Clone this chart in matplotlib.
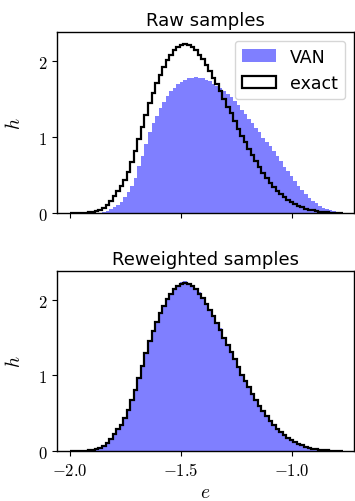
## Import libraries

import numpy as np
import matplotlib
matplotlib.use("Agg")
import matplotlib.pyplot as plt

plt.rcParams["font.family"] = "DejaVu Sans"
plt.rcParams["mathtext.fontset"] = "cm"

## Data (bin heights, 77 bins from -2.0 to -0.768)

edges = np.linspace(-2.0, -0.768, 78)

exact = [0.000, 0.000, 0.001, 0.002, 0.004, 0.008, 0.015, 0.026, 0.045, 0.07,
         0.11, 0.16, 0.22, 0.29, 0.35, 0.43, 0.54, 0.67, 0.81, 0.97,
         1.13, 1.29, 1.45, 1.58, 1.71, 1.82, 1.92, 2.01, 2.08, 2.14,
         2.18, 2.21, 2.22, 2.21, 2.18, 2.14, 2.08, 2.02, 1.95, 1.87,
         1.78, 1.69, 1.60, 1.50, 1.40, 1.31, 1.21, 1.11, 1.01, 0.93,
         0.84, 0.76, 0.68, 0.60, 0.53, 0.46, 0.40, 0.34, 0.29, 0.25,
         0.21, 0.175, 0.145, 0.12, 0.095, 0.075, 0.058, 0.044, 0.033, 0.024,
         0.017, 0.012, 0.008, 0.005, 0.003, 0.002, 0.001]

van_raw = [0.0, 0.0, 0.0, 0.0, 0.0, 0.0, 0.0, 0.002, 0.005, 0.012,
           0.03, 0.05, 0.08, 0.11, 0.15, 0.21, 0.28, 0.36, 0.46, 0.62,
           0.75, 0.91, 1.06, 1.18, 1.28, 1.38, 1.46, 1.54, 1.60, 1.65,
           1.69, 1.72, 1.75, 1.77, 1.78, 1.785, 1.78, 1.77, 1.75, 1.73,
           1.70, 1.67, 1.64, 1.60, 1.56, 1.52, 1.47, 1.42, 1.36, 1.30,
           1.24, 1.18, 1.12, 1.06, 0.99, 0.93, 0.88, 0.82, 0.75, 0.68,
           0.61, 0.55, 0.48, 0.42, 0.36, 0.30, 0.25, 0.20, 0.16, 0.125,
           0.095, 0.07, 0.05, 0.033, 0.02, 0.011, 0.005]

van_rew = [0.0, 0.0, 0.001, 0.002, 0.005, 0.007, 0.014, 0.028, 0.043, 0.072,
           0.105, 0.165, 0.215, 0.295, 0.345, 0.44, 0.53, 0.68, 0.80, 0.98,
           1.12, 1.30, 1.44, 1.59, 1.70, 1.83, 1.91, 2.02, 2.07, 2.15,
           2.17, 2.23, 2.25, 2.20, 2.19, 2.13, 2.10, 2.01, 1.96, 1.86,
           1.79, 1.68, 1.62, 1.49, 1.41, 1.30, 1.23, 1.10, 1.02, 0.92,
           0.85, 0.75, 0.69, 0.59, 0.54, 0.45, 0.41, 0.33, 0.30, 0.24,
           0.215, 0.17, 0.15, 0.115, 0.10, 0.072, 0.06, 0.042, 0.034, 0.022,
           0.018, 0.011, 0.008, 0.004, 0.003, 0.001, 0.001]

titles = ["Raw samples", "Reweighted samples"]
xticks = [-2.0, -1.5, -1.0]
xticklabels = [r"$-2.0$", r"$-1.5$", r"$-1.0$"]
yticks = [0, 1, 2]
yticklabels = [r"$0$", r"$1$", r"$2$"]

## Plot

fig = plt.figure(figsize=(3.55, 5.02), dpi=100)
ax1 = fig.add_axes([0.1606, 0.5737, 0.836, 0.3606])
ax2 = fig.add_axes([0.1606, 0.0996, 0.836, 0.3586], sharex=ax1)

centers = edges[:-1]
for ax, van, title in [(ax1, van_raw, titles[0]), (ax2, van_rew, titles[1])]:
    ax.hist(centers, bins=edges, weights=van, histtype="stepfilled",
            color="blue", alpha=0.5, label="VAN")
    ax.hist(centers, bins=edges, weights=exact, histtype="step",
            color="black", lw=1.6, label="exact")
    ax.set_title(title, fontsize=13, pad=5)
    ax.set_ylabel(r"$h$", fontsize=14, labelpad=10)
    ax.set_yticks(yticks)
    ax.set_yticklabels(yticklabels, fontsize=12)
    ax.set_ylim(0, 2.38)
    for s in ax.spines.values():
        s.set_linewidth(1.0)

ax1.set_xlim(-2.059, -0.719)
ax2.set_xticks(xticks)
ax2.set_xticklabels(xticklabels, fontsize=12)
ax2.set_xlabel(r"$e$", fontsize=14, labelpad=2)
plt.setp(ax1.get_xticklabels(), visible=False)

ax1.legend(loc="upper right", fontsize=12.5, handlelength=2.0)

plt.savefig("out.png", dpi=100)
